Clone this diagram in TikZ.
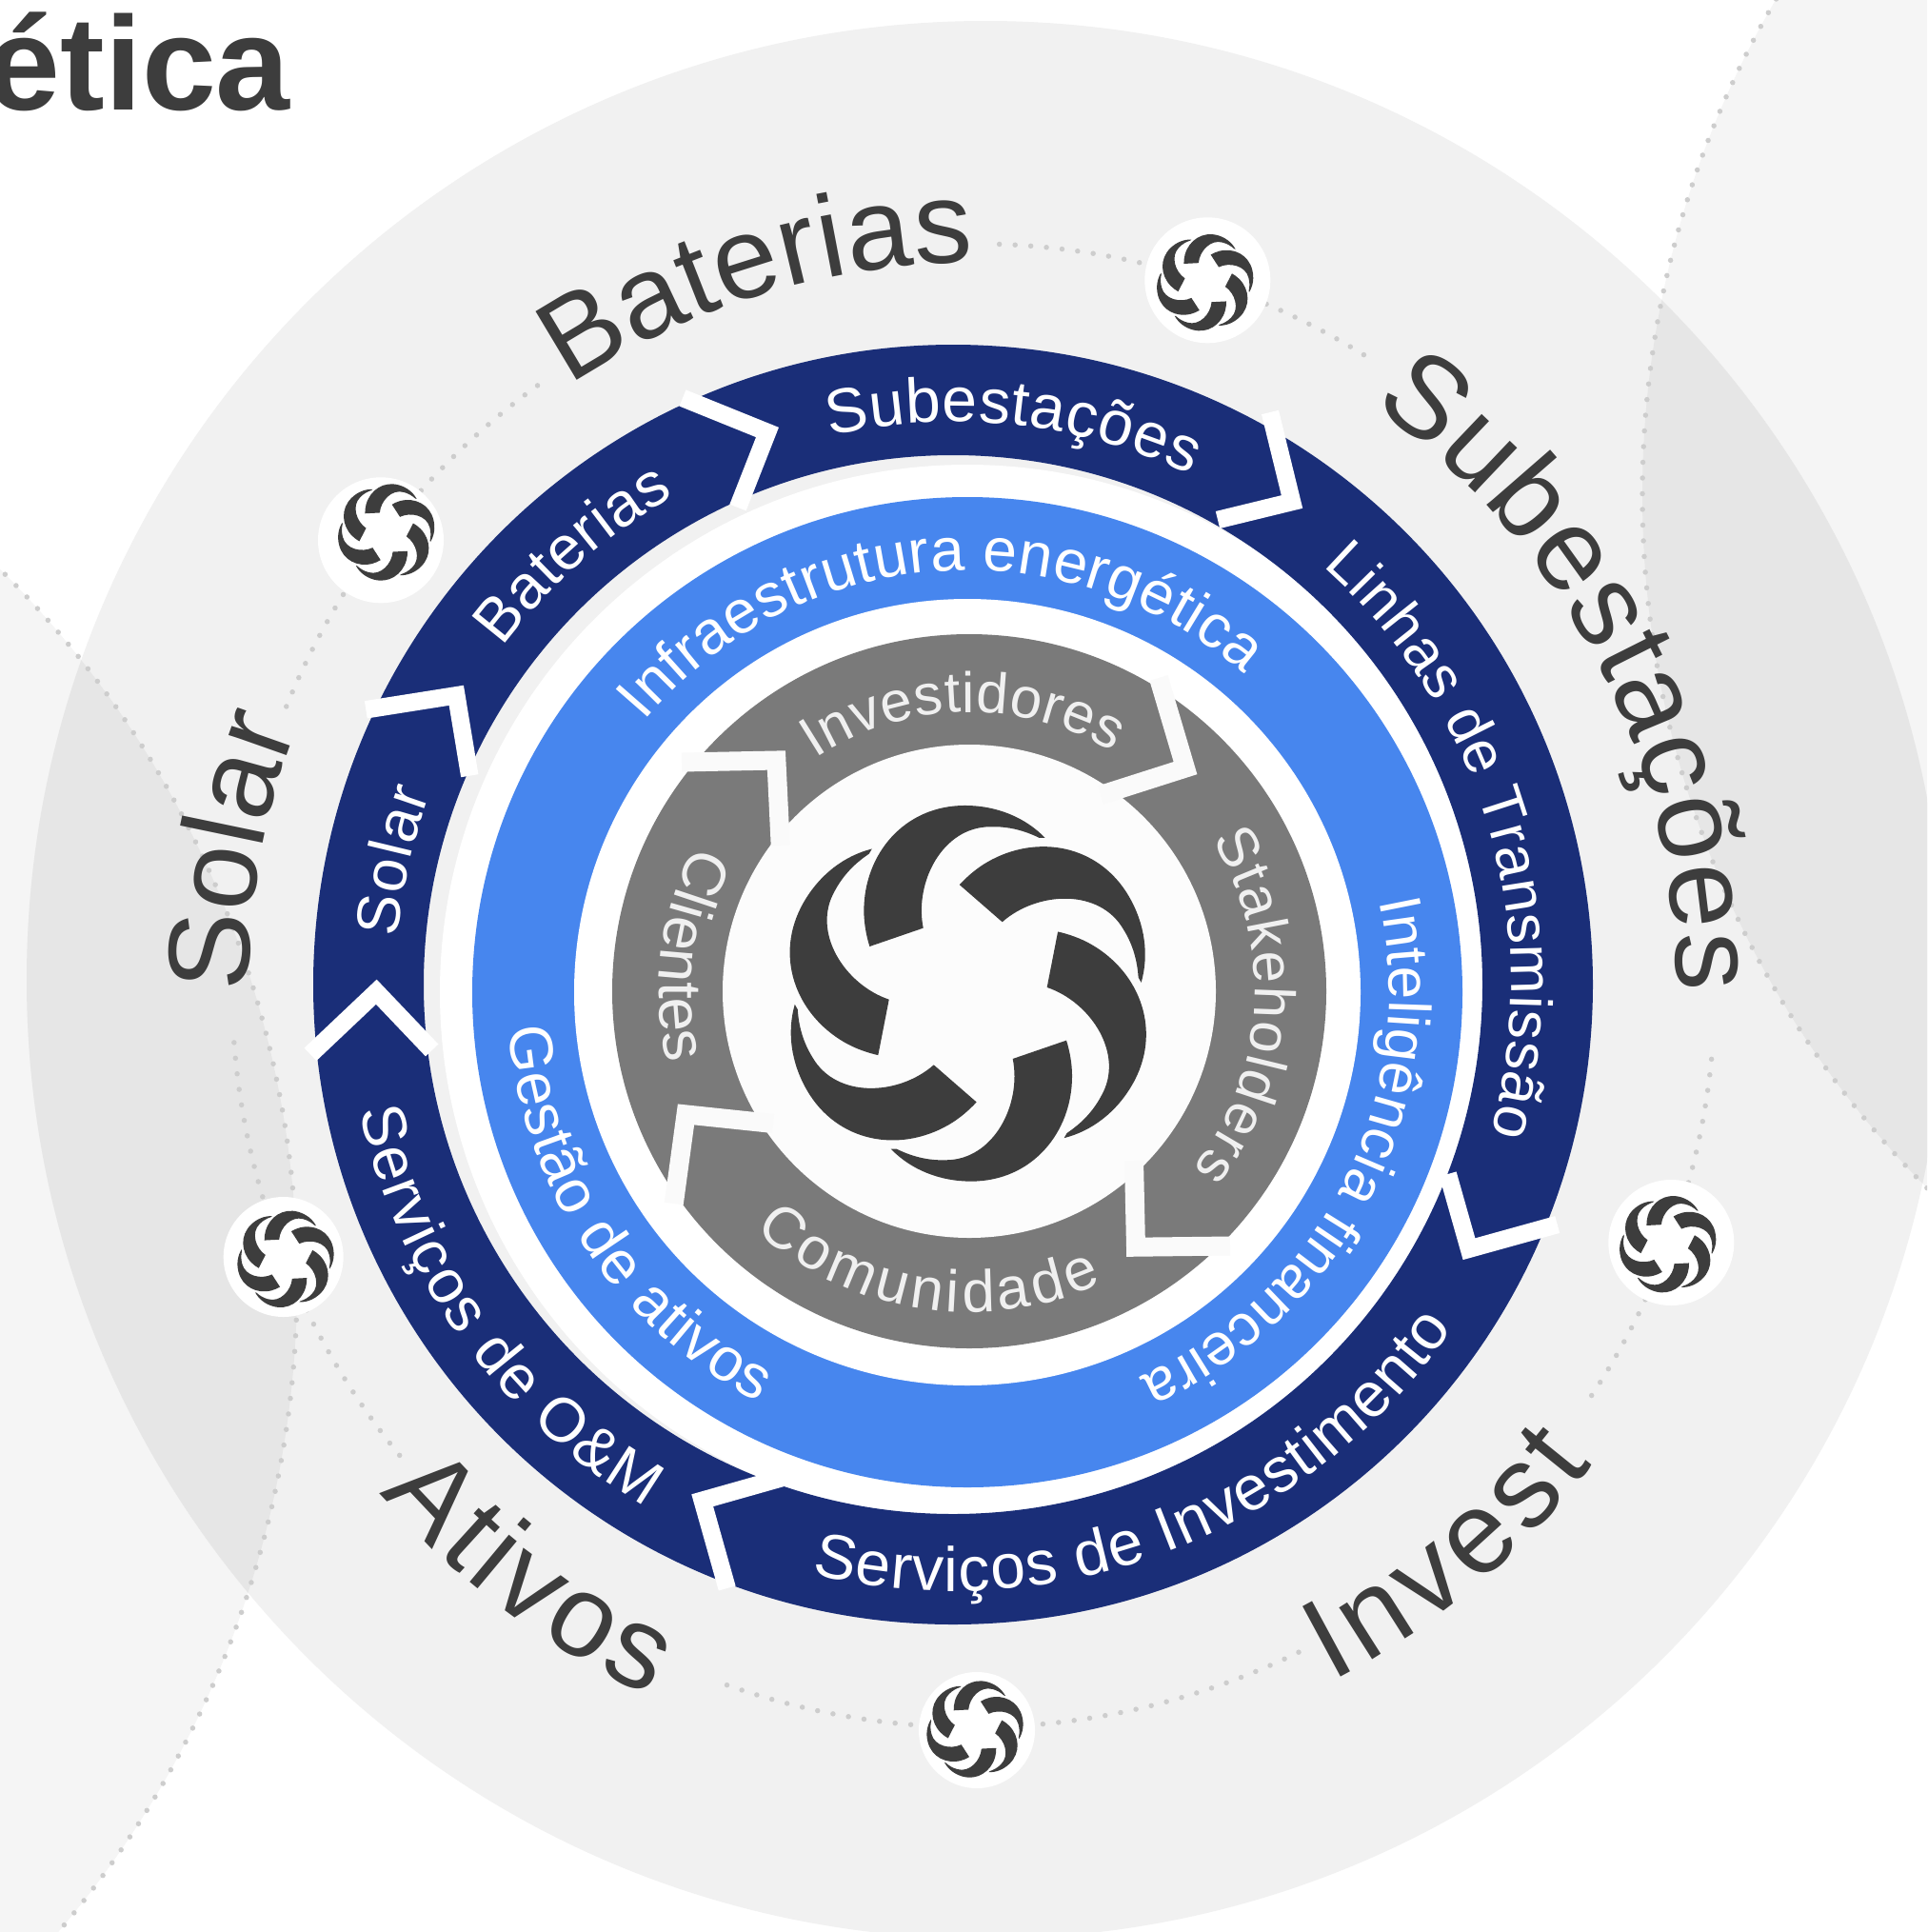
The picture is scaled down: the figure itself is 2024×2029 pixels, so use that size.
\documentclass[tikz,border=0pt]{standalone}
\usepackage{fontspec}
\setmainfont{Liberation Sans}
\newfontfamily\lab{Liberation Sans}
\usetikzlibrary{decorations.text}
\definecolor{bgmain}{HTML}{F1F1F1}
\definecolor{bgside}{HTML}{F5F5F5}
\definecolor{bgover}{HTML}{E6E6E6}
\definecolor{navy}{HTML}{1A2E78}
\definecolor{sky}{HTML}{4786EE}
\definecolor{ringgray}{HTML}{7A7A7A}
\definecolor{ink}{HTML}{3D3D3D}
\definecolor{dotc}{HTML}{CDCDCD}
\newcommand\ffont[2]{\lab\fontsize{#1}{#1}\selectfont\color{#2}}
\newcommand\arctextc[8]{\path[decorate,decoration={text along path,text align={fit to path},text={|\ffont{#7}{#8}|#6}}]
  ({#1+#3*cos(#4)},{-#2+#3*sin(#4)}) arc[start angle=#4,end angle=#5,radius=#3];}
\colorlet{soft}{black!6}
\tikzset{
  chevron/.style={draw=white,line width=18.5pt,miter limit=10,line join=miter},
  chevrongray/.style={draw=white!98!black,line width=20pt,miter limit=10,line join=miter},
  dotline/.style={draw=dotc,line width=5.5pt,line cap=round,dash pattern=on 0pt off 16.5pt},
  swirl/.pic={
    \foreach \a in {0,60,...,300}{
      \fill[ink,rotate=\a] (-47,68.67) .. controls (-56.67,116.67) and (-26.67,175) .. (23.33,175)
        .. controls (43.33,175.67) and (60,170.67) .. (75,163.33) -- (81,163.33)
        .. controls (60,185) and (30,197.33) .. (-3.33,197.33)
        .. controls (-66.67,197.33) and (-109.33,146.67) .. (-109.33,86.67)
        .. controls (-109.33,73.33) and (-106.67,60) .. (-103.33,49.33) -- cycle;
    }
  }
}
\begin{document}
\begin{tikzpicture}[x=1pt,y=1pt]
\path[use as bounding box] (0,0) rectangle (2024,-2029);
\clip (0,0) rectangle (2024,-2029);
\fill[white] (0,0) rectangle (2024,-2029);
% side circles and main disc
\fill[bgside] (-742,-1346.4) circle[radius=1054];
\fill[bgside] (2760,-520) circle[radius=1035];
\fill[bgmain] (1035,-1029) circle[radius=1007];
\begin{scope}
  \clip (1035,-1029) circle[radius=1007];
  \fill[bgover] (-742,-1346.4) circle[radius=1054];
  \fill[bgover] (2760,-520) circle[radius=1035];
\end{scope}
\draw[dotline] (-742,-1346.4) circle[radius=1054];
\draw[dotline] (2760,-520) circle[radius=1035];
% dotted arcs of the orbit
\foreach \s/\e in {88/71.6,71.6/57.9,-5.7/-20.2,-20.2/-33.6,-64/-90,270/249.6,219.3/201.4,201.4/183.8,157.9/143,143/125.8}{
  \draw[dotline] ({1022.5+779*cos(\s)},{-1035+779*sin(\s)}) arc[start angle=\s,end angle=\e,radius=779];
}
% orbit logos
\fill[white] (1268.3,-294.3) circle[radius=66];
\pic[scale=.26,rotate=-16] (logoA) at (1265.7,-296.7) {swirl};
\fill[white] (1755.3,-1305) circle[radius=66];
\pic[scale=.26,rotate=-16] (logoB) at (1751.7,-1306.7) {swirl};
\fill[white] (1026,-1817) circle[radius=61];
\pic[scale=.26,rotate=-16] (logoC) at (1024,-1816) {swirl};
\fill[white] (297.7,-1320) circle[radius=63];
\pic[scale=.26,rotate=-16] (logoD) at (300,-1322.3) {swirl};
\fill[white] (400,-567.3) circle[radius=66];
\pic[scale=.26,rotate=-16] (logoE) at (405.7,-559) {swirl};
% inner discs
\fill[white] (1016,-1042) circle[radius=554];
\fill[sky] (1016,-1042) circle[radius=520];
\fill[white] (1016,-1042) circle[radius=413];
\fill[ringgray] (1018,-1041) circle[radius=375];
\fill[white!99!black] (1018,-1041) circle[radius=259];
% dark ring
\fill[navy,even odd rule] (1001,-1034) circle[radius=672] (1001,-1034) circle[radius=556];
% dark ring chevrons
\draw[chevron] (717,-418) -- (806,-454) -- (775,-533);
\draw[chevron] (1334,-433) -- (1357,-527) -- (1279,-546);
\draw[chevron] (1520.7,-1233) -- (1543,-1311.7) -- (1635.7,-1286);
\draw[chevron] (825,-1551) -- (737.7,-1575.7) -- (763.7,-1668);
\draw[chevron] (453.7,-1103) -- (395.3,-1041.7) -- (326,-1107.3);
\draw[chevron] (384.3,-745.3) -- (479.3,-730.3) -- (493.3,-814.7);
% gray ring chevrons
\draw[chevrongray] (1217,-712) -- (1245,-806.6) -- (1156,-835);
\draw[chevrongray] (1191,-1219) -- (1193,-1309.7) -- (1292,-1308.5);
\draw[chevrongray] (812,-1180) -- (720.5,-1170.4) -- (707.8,-1264);
\draw[chevrongray] (716,-800.5) -- (815.4,-798.5) -- (819.7,-888);
% central logo
\pic (logoMain) at (1016.7,-1043.3) {swirl};
% title
\node[anchor=base east,inner sep=0pt,text=ink,font=\fontsize{140}{140}\selectfont\bfseries] (title) at (305,-115) {ética};
% dark ring labels
\arctextc{1001}{1034}{591}{102.7}{65}{Subestações}{66}{white}
\arctextc{1001}{1034}{591}{143.2}{119.7}{Baterias}{65}{white}
\arctextc{1001}{1034}{586}{48.5}{-15.5}{Linhas de Transmissão}{62.5}{white}
\arctextc{1001}{1034}{585}{175.1}{159.9}{Solar}{64}{white}
\arctextc{1001}{1034}{637}{192}{239.5}{Serviços de O{\&}M}{65}{white}
\arctextc{1001}{1034}{637}{256.5}{325.5}{Serviços de Investimento}{66}{white}
% light blue ring labels
\arctextc{1016}{1042}{443}{140}{49}{Infraestrutura energética}{64}{white}
\arctextc{1016}{1042}{443}{12.5}{-66}{Inteligência financeira}{62}{white}
\arctextc{1016}{1042}{483}{184.5}{243}{Gestão de ativos}{64}{white}
% gray ring labels
\arctextc{1018}{1041}{293}{123.5}{59}{Investidores}{60}{soft}
\arctextc{1018}{1041}{300}{32}{-38.5}{Stakeholders}{60}{soft}
\arctextc{1018}{1041}{337}{228}{294.5}{Comunidade}{62}{soft}
\arctextc{1018}{1041}{326}{152}{193.5}{Clientes}{64}{soft}
% outer labels
\arctextc{1022.5}{1035}{759}{124}{90}{Baterias}{122}{ink}
\arctextc{1022.5}{1035}{738}{55.5}{-0.5}{Subestações}{122}{ink}
\arctextc{1022.5}{1035}{761}{180.5}{159.3}{Solar}{122}{ink}
\arctextc{1022.5}{1035}{822}{297.2}{322.3}{Invest}{122}{ink}
\arctextc{1022.5}{1035}{820}{220.5}{245.5}{Ativos}{122}{ink}
\end{tikzpicture}
\end{document}
